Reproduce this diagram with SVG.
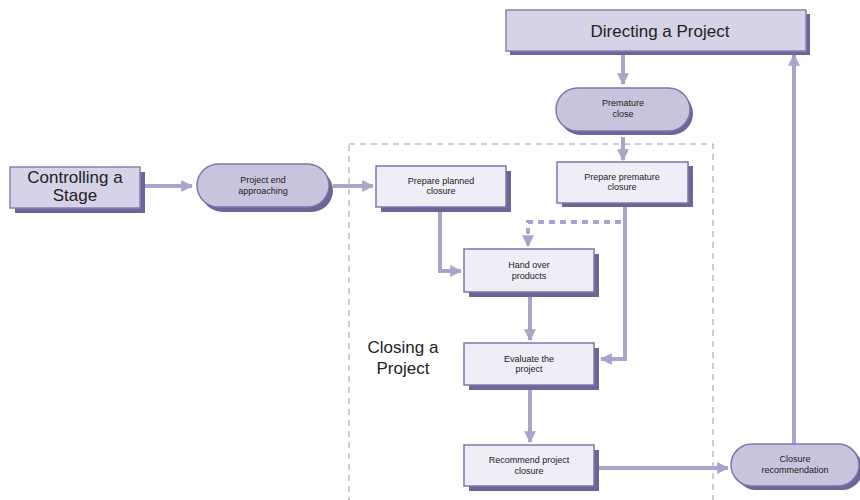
<svg xmlns="http://www.w3.org/2000/svg" width="860" height="500" viewBox="0 0 860 500">
<style>
.shadow{fill:#6b6598}
.big{fill:#d6d2e7;stroke:#8782b4;stroke-width:1.5}
.act{fill:#efeef7;stroke:#7c77aa;stroke-width:1.5}
.pill{fill:#c8c4de;stroke:#7c77aa;stroke-width:1.5}
.bt{font-family:"Liberation Sans",Arial,sans-serif;font-size:17px;fill:#222;text-anchor:middle}
.st{font-family:"Liberation Sans",Arial,sans-serif;font-size:9px;fill:#222;text-anchor:middle}
.ln{fill:none;stroke:#a8a4ca;stroke-width:4}
.dash{fill:none;stroke:#a8a4ca;stroke-width:4;stroke-dasharray:6 5}
</style>
<defs>
<marker id="ah" viewBox="0 0 10 10" refX="9" refY="5" markerWidth="3" markerHeight="3" orient="auto" markerUnits="strokeWidth">
<path d="M0,0 L10,5 L0,10 Z" fill="#a8a4ca"/>
</marker>
</defs>
<rect width="860" height="500" fill="#ffffff"/>
<rect x="349" y="144" width="364" height="360" fill="none" stroke="#9a97b0" stroke-width="1" stroke-dasharray="6 5"/>
<text class="bt" x="403" y="353">Closing a</text>
<text class="bt" x="403" y="374">Project</text>
<g id="connectors">
<line class="ln" x1="623" y1="53" x2="623" y2="84" marker-end="url(#ah)"/>
<line class="ln" x1="794" y1="446" x2="794" y2="55" marker-end="url(#ah)"/>
<line class="ln" x1="145" y1="186" x2="192" y2="186" marker-end="url(#ah)"/>
<line class="ln" x1="333" y1="186" x2="373" y2="186" marker-end="url(#ah)"/>
<line class="ln" x1="623" y1="137" x2="623" y2="160" marker-end="url(#ah)"/>
<polyline class="ln" points="440,212 440,271 461,271" marker-end="url(#ah)"/>
<polyline class="dash" points="621,222 528,222 528,246" marker-end="url(#ah)"/>
<polyline class="ln" points="625,207 625,359 601,359" marker-end="url(#ah)"/>
<line class="ln" x1="530" y1="296" x2="530" y2="340" marker-end="url(#ah)"/>
<line class="ln" x1="530" y1="389" x2="530" y2="442" marker-end="url(#ah)"/>
<line class="ln" x1="598" y1="468" x2="728" y2="468" marker-end="url(#ah)"/>
</g>
<g id="directing">
<rect class="shadow" x="510" y="14" width="300" height="41"/>
<rect class="big" x="506" y="10" width="300" height="41"/>
<text class="bt" x="660" y="37">Directing a Project</text>
</g>
<g id="controlling">
<rect class="shadow" x="15" y="172" width="130" height="41"/>
<rect class="big" x="10" y="167" width="130" height="41"/>
<text class="bt" x="75" y="183">Controlling a</text>
<text class="bt" x="75" y="201">Stage</text>
</g>
<g id="premature-close">
<rect class="shadow" x="559" y="92" width="134" height="43" rx="21.5"/>
<rect class="pill" x="556" y="88" width="134" height="43" rx="21.5"/>
<text class="st" x="623" y="106">Premature</text>
<text class="st" x="623" y="117">close</text>
</g>
<g id="project-end">
<rect class="shadow" x="201" y="169" width="132" height="43" rx="21.5"/>
<rect class="pill" x="197" y="164" width="132" height="43" rx="21.5"/>
<text class="st" x="263" y="183">Project end</text>
<text class="st" x="263" y="194">approaching</text>
</g>
<g id="prepare-planned">
<rect class="shadow" x="381" y="171" width="130" height="41"/>
<rect class="act" x="376" y="166" width="130" height="41"/>
<text class="st" x="441" y="184">Prepare planned</text>
<text class="st" x="441" y="194">closure</text>
</g>
<g id="prepare-premature">
<rect class="shadow" x="562" y="166" width="131" height="41"/>
<rect class="act" x="557" y="162" width="131" height="41"/>
<text class="st" x="622" y="180">Prepare premature</text>
<text class="st" x="622" y="190">closure</text>
</g>
<g id="hand-over">
<rect class="shadow" x="469" y="254" width="130" height="43"/>
<rect class="act" x="464" y="249" width="130" height="43"/>
<text class="st" x="529" y="268">Hand over</text>
<text class="st" x="529" y="279">products</text>
</g>
<g id="evaluate">
<rect class="shadow" x="469" y="348" width="130" height="42"/>
<rect class="act" x="464" y="343" width="130" height="42"/>
<text class="st" x="529" y="362">Evaluate  the</text>
<text class="st" x="529" y="372">project</text>
</g>
<g id="recommend">
<rect class="shadow" x="469" y="450" width="130" height="41"/>
<rect class="act" x="464" y="445" width="130" height="41"/>
<text class="st" x="529" y="463">Recommend project</text>
<text class="st" x="529" y="474">closure</text>
</g>
<g id="closure-recommendation">
<rect class="shadow" x="735" y="448" width="128" height="42" rx="21"/>
<rect class="pill" x="731" y="444" width="128" height="42" rx="21"/>
<text class="st" x="795" y="462">Closure</text>
<text class="st" x="795" y="473">recommendation</text>
</g>
</svg>
